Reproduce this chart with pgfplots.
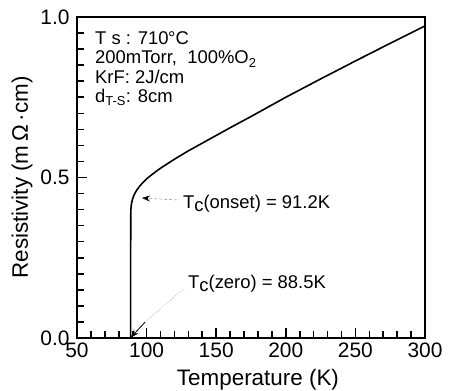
\documentclass[border=0pt]{standalone}
\usepackage{pgfplots}
\pgfplotsset{compat=1.18}
\usetikzlibrary{arrows.meta}
\usepackage{fontspec}
\setmainfont{Liberation Sans}
\begin{document}
\begin{tikzpicture}
\begin{axis}[
  at={(0,0)}, anchor=south west,
  scale only axis, width=348bp, height=321bp,
  xmin=50, xmax=300, ymin=0, ymax=1.0,
  xtick={50,100,150,200,250,300},
  xticklabels={50,100,150,200,250,300},
  minor x tick num=4,
  ytick={0,0.5,1.0},
  yticklabels={0.0,0.5,1.0},
  minor y tick num=9,
  tick pos=left,
  major tick length=10bp, minor tick length=7bp,
  tick style={draw=black, line width=1.6pt},
  axis line style={line width=1.4pt},
  ticklabel style={font=\fontsize{21}{23}\selectfont},
  yticklabel style={xshift=-4bp},
  xticklabel style={yshift=-1bp},
  xlabel={Temperature (K)},
  ylabel={Resistivity (m\,Ω\,\textperiodcentered cm)},
  label style={font=\fontsize{22.5}{24}\selectfont},
  xlabel style={at={(axis description cs:0.52,-0.131)}, anchor=center},
  ylabel style={at={(axis description cs:-0.158,0.5)}, anchor=center},
  clip=false,
]
\addplot[black, line width=1.6pt, line join=round] table {
T rho
88.5 0.0
88.6 0.38
88.7 0.400
89.0 0.415
89.6 0.428
90.5 0.440
91.5 0.450
93 0.461
95 0.473
97.5 0.485
100 0.496
105 0.513
110 0.529
115 0.543
120 0.557
130 0.583
140 0.607
150 0.631
160 0.655
175 0.690
200 0.750
225 0.807
250 0.863
275 0.918
300 0.972
};
\node[anchor=north west, align=left, font=\fontsize{18.5}{19.5}\selectfont, inner sep=0pt] at (axis cs:62.9,0.955)
  {T s : 710\kern-0.02em°C\\200mTorr,\ \ 100\%O\textsubscript{2}\\KrF: 2J/cm\\d\textsubscript{T-S}: 8cm};
\node[anchor=west, font=\fontsize{18.5}{19.5}\selectfont, inner sep=0pt] at (axis cs:126.1,0.417)
  {T\raisebox{-0.25ex}{c}(onset) = 91.2K};
\node[anchor=west, font=\fontsize{18.5}{19.5}\selectfont, inner sep=0pt] at (axis cs:129.7,0.168)
  {T\raisebox{-0.25ex}{c}(zero) = 88.5K};
\draw[gray, densely dashed, thin, -{Stealth[black,length=8bp,width=6bp]}] (axis cs:121.8,0.43) -- (axis cs:96.7,0.436);
\draw[gray, densely dotted, thin] (axis cs:127,0.155) -- (axis cs:99,0.05);
\draw[black, line width=0.8pt, -{Stealth[length=8bp,width=6bp]}] (axis cs:99,0.05) -- (axis cs:88.7,0.002);
\end{axis}
\pgfresetboundingbox
\path (-77bp,-53bp) rectangle (372bp,338bp);
\end{tikzpicture}
\end{document}
